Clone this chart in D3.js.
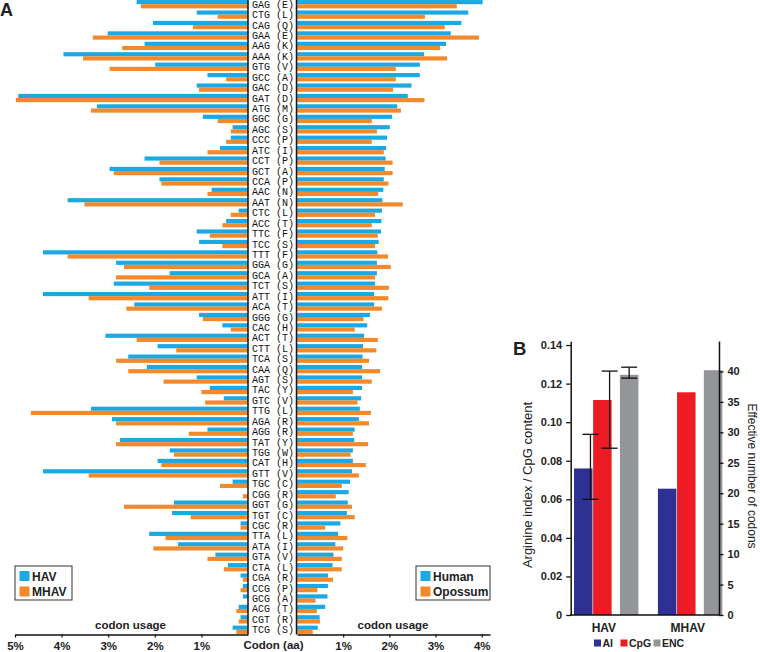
<!DOCTYPE html>
<html><head><meta charset="utf-8">
<script src="https://cdn.jsdelivr.net/npm/d3@7"></script>
<style>body{margin:0;background:#fff}svg{display:block}</style>
</head><body>
<svg id="chart" width="760" height="652"></svg>
<script>
// ---------- Panel A data ----------
const codons = ["GAG (E)","CTG (L)","CAG (Q)","GAA (E)","AAG (K)","AAA (K)","GTG (V)","GCC (A)","GAC (D)","GAT (D)",
"ATG (M)","GGC (G)","AGC (S)","CCC (P)","ATC (I)","CCT (P)","GCT (A)","CCA (P)","AAC (N)","AAT (N)",
"CTC (L)","ACC (T)","TTC (F)","TCC (S)","TTT (F)","GGA (G)","GCA (A)","TCT (S)","ATT (I)","ACA (T)",
"GGG (G)","CAC (H)","ACT (T)","CTT (L)","TCA (S)","CAA (Q)","AGT (S)","TAC (Y)","GTC (V)","TTG (L)",
"AGA (R)","AGG (R)","TAT (Y)","TGG (W)","CAT (H)","GTT (V)","TGC (C)","CGG (R)","GGT (G)","TGT (C)",
"CGC (R)","TTA (L)","ATA (I)","GTA (V)","CTA (L)","CGA (R)","CCG (P)","GCG (A)","ACG (T)","CGT (R)","TCG (S)"];
const havUsage = [2.39,1.10,2.04,3.01,2.22,3.96,1.99,0.87,1.10,4.93,
3.24,0.97,0.33,0.37,0.60,2.22,2.97,1.90,0.78,3.87,
0.20,0.47,1.10,1.05,4.40,2.83,1.68,2.88,4.40,2.44,
1.05,0.55,3.06,1.94,2.57,2.17,1.10,0.82,0.52,3.37,
2.92,0.87,2.75,1.68,1.94,4.40,0.33,0.00,1.59,1.63,
0.16,2.12,1.50,0.70,0.43,0.16,0.11,0.11,0.20,0.16,0.33];
const mhavUsage = [2.30,0.65,1.18,3.33,2.70,3.54,2.97,0.47,1.05,4.98,
3.37,0.65,0.37,0.47,0.87,1.90,2.88,1.86,0.87,3.51,
0.37,0.55,0.82,0.55,3.87,2.66,2.83,2.12,3.42,2.61,
0.97,0.37,2.39,1.54,2.83,2.57,1.81,1.00,0.92,4.66,
2.83,1.27,2.83,1.59,1.86,3.42,0.60,0.11,2.66,1.23,
0.16,1.77,2.03,0.87,0.52,0.11,0.16,0.00,0.25,0.20,0.25];
const humanUsage = [4.02,3.71,3.56,3.33,3.23,2.75,2.66,2.66,2.48,2.40,
2.17,2.06,2.01,1.95,1.93,1.92,1.90,1.88,1.87,1.85,
1.84,1.83,1.82,1.77,1.74,1.73,1.73,1.69,1.67,1.67,
1.58,1.52,1.45,1.43,1.42,1.41,1.41,1.41,1.39,1.36,
1.34,1.25,1.24,1.21,1.21,1.19,1.15,1.12,1.10,1.08,
0.94,0.89,0.83,0.79,0.77,0.67,0.67,0.66,0.61,0.49,0.45];
const opossumUsage = [3.46,2.77,3.20,3.94,3.10,3.25,2.14,2.14,2.08,2.76,
2.25,1.62,1.73,1.62,1.88,2.07,2.07,1.98,1.76,2.29,
1.69,1.62,1.75,1.69,1.97,2.03,1.69,1.99,1.98,1.84,
1.44,1.25,1.75,1.72,1.56,1.80,1.62,1.21,1.31,1.60,
1.56,1.21,1.54,1.16,1.49,1.34,0.97,0.84,1.19,1.25,
0.61,1.09,1.00,0.97,0.97,0.78,0.44,0.40,0.43,0.50,0.34];
const leftTicks = [1,2,3,4,5];
const rightTicks = [1,2,3,4];
const leftSeries = ["HAV","MHAV"];
const rightSeries = ["Human","Opossum"];

// ---------- Panel B data ----------
const groupsB = ["HAV","MHAV"];
const seriesB = ["AI","CpG","ENC"];
const aiValues = [0.076, 0.0655];
const cpgValues = [0.1115, 0.1155];
const encValues = [39.45, 40.2];
const aiErr = [[0.060, 0.0937], null];
const cpgErr = [[0.0865, 0.1265], null];
const encErr = [[38.9, 40.7], null];
const leftTicksB = [0,0.02,0.04,0.06,0.08,0.10,0.12,0.14];
const rightTicksB = [0,5,10,15,20,25,30,35,40];

const BLUE = "#1ca8e3", ORANGE = "#f28a2b";
const NAVY = "#2e3192", RED = "#ed1c24", GRAY = "#939598";
const SANS = "'Liberation Sans', Arial, sans-serif";

const svg = d3.select("#chart");

// ================= Panel A =================
const axisY = 634.5;
const yBand = d3.scaleBand().domain(codons).range([-1, 635]);
const ySub = d3.scaleBand().domain(["a","b"]).range([yBand.bandwidth()*0.1, yBand.bandwidth()*0.9]);
const xL = d3.scaleLinear().domain([0,5]).range([248, 15]);
const xR = d3.scaleLinear().domain([0,4.18]).range([297, 490]);

const gA = svg.append("g");
const rowsL = codons.map((c,i)=>({c, a: havUsage[i], b: mhavUsage[i], h: humanUsage[i], o: opossumUsage[i]}));

gA.selectAll("rect.hav").data(rowsL).join("rect")
  .attr("x", d=>xL(d.a)).attr("width", d=>xL(0)-xL(d.a))
  .attr("y", d=>yBand(d.c)+ySub("a")).attr("height", ySub.bandwidth()).attr("fill", BLUE);
gA.selectAll("rect.mhav").data(rowsL).join("rect")
  .attr("x", d=>xL(d.b)).attr("width", d=>xL(0)-xL(d.b))
  .attr("y", d=>yBand(d.c)+ySub("b")).attr("height", ySub.bandwidth()).attr("fill", ORANGE);
gA.selectAll("rect.hum").data(rowsL).join("rect")
  .attr("x", xR(0)).attr("width", d=>xR(d.h)-xR(0))
  .attr("y", d=>yBand(d.c)+ySub("a")).attr("height", ySub.bandwidth()).attr("fill", BLUE);
gA.selectAll("rect.opo").data(rowsL).join("rect")
  .attr("x", xR(0)).attr("width", d=>xR(d.o)-xR(0))
  .attr("y", d=>yBand(d.c)+ySub("b")).attr("height", ySub.bandwidth()).attr("fill", ORANGE);

// codon labels
gA.selectAll("text.codon").data(codons).join("text")
  .attr("x", (xL(0)+xR(0))/2 + 0.5).attr("y", d=>yBand(d)+yBand.bandwidth()/2)
  .attr("dy","0.35em").attr("text-anchor","middle")
  .style("font-family","'Liberation Mono', 'Courier New', monospace").style("font-size","10px")
  .attr("fill","#111").text(d=>d);

// vertical separators
[xL(0), xR(0)-0.5].forEach(x=>{
  gA.append("line").attr("x1",x).attr("x2",x).attr("y1",0).attr("y2",axisY)
    .attr("stroke","#111").attr("stroke-width",1.5);
});

// bottom axes
const axL = d3.axisBottom(xL).tickValues(leftTicks).tickSize(3).tickSizeOuter(0).tickPadding(4).tickFormat(d=>d+"%");
const axR = d3.axisBottom(xR).tickValues(rightTicks).tickSize(3).tickSizeOuter(0).tickPadding(4).tickFormat(d=>d+"%");
[[axL],[axR]].forEach(([ax])=>{
  const g = gA.append("g").attr("transform",`translate(0,${axisY})`).call(ax);
  g.select(".domain").attr("stroke","#111").attr("stroke-width",1.5);
  g.selectAll(".tick line").attr("stroke","#111").attr("stroke-width",1.2);
  g.selectAll(".tick text").attr("fill","#222").style("font-family",SANS).style("font-size","11.5px").style("font-weight","bold");
});

gA.append("text").attr("x", (xL(0)+xR(0))/2 + 1).attr("y", 649).attr("text-anchor","middle")
  .style("font-family",SANS).style("font-size","11.5px").style("font-weight","bold").attr("fill","#222").text("Codon (aa)");
gA.append("text").attr("x", 130.5).attr("y", 629).attr("text-anchor","middle")
  .style("font-family",SANS).style("font-size","11.5px").style("font-weight","bold").attr("fill","#222").text("codon usage");
gA.append("text").attr("x", 393).attr("y", 629).attr("text-anchor","middle")
  .style("font-family",SANS).style("font-size","11.5px").style("font-weight","bold").attr("fill","#222").text("codon usage");

// legends
function legendA(x, y, w, labels){
  const g = gA.append("g").attr("transform",`translate(${x},${y})`);
  g.append("rect").attr("width",w).attr("height",34).attr("fill","#fff").attr("stroke","#333").attr("stroke-width",1);
  labels.forEach((lab,i)=>{
    g.append("rect").attr("x",4.5).attr("y",5+i*15.5).attr("width",10).attr("height",10).attr("fill", i===0?BLUE:ORANGE);
    g.append("text").attr("x",17).attr("y",14.5+i*15.5).style("font-family",SANS).style("font-size","12px")
      .style("font-weight","bold").attr("fill","#222").text(lab);
  });
}
legendA(15, 566, 57, leftSeries);
legendA(416, 566, 74, rightSeries);

svg.append("text").attr("x",0).attr("y",16).style("font-family",SANS).style("font-size","18px")
  .style("font-weight","bold").attr("fill","#222").text("A");

// ================= Panel B =================
const baseB = 615;
const yBL = d3.scaleLinear().domain([0,0.142]).range([baseB, 341.2]);
const yBR = d3.scaleLinear().domain([0,45]).range([baseB, 341]);
const x0 = d3.scaleBand().domain(groupsB).range([574, 721.7]).paddingInner(0.24).paddingOuter(0);
const bw = x0.bandwidth();
const subPos = d3.scaleOrdinal().domain(seriesB).range([0, 0.30, 0.72]);
const barW = bw*0.29;
const errAnchor = d3.scaleOrdinal().domain(seriesB).range([0.89, 0.89, 0.5]);
const colorB = d3.scaleOrdinal().domain(seriesB).range([NAVY, RED, GRAY]);

const gB = svg.append("g");
const barsB = [];
groupsB.forEach((g,i)=>{
  barsB.push({g, s:"AI", v: aiValues[i], e: aiErr[i], sc: yBL});
  barsB.push({g, s:"CpG", v: cpgValues[i], e: cpgErr[i], sc: yBL});
  barsB.push({g, s:"ENC", v: encValues[i], e: encErr[i], sc: yBR});
});
gB.selectAll("rect.bar").data(barsB).join("rect")
  .attr("x", d=>x0(d.g)+subPos(d.s)*bw).attr("width", barW)
  .attr("y", d=>d.sc(d.v)).attr("height", d=>baseB - d.sc(d.v))
  .attr("fill", d=>colorB(d.s));

// error bars
const errs = barsB.filter(d=>d.e);
errs.forEach(d=>{
  const cx = x0(d.g)+subPos(d.s)*bw + barW*errAnchor(d.s);
  const y1 = d.sc(d.e[0]), y2 = d.sc(d.e[1]);
  gB.append("line").attr("x1",cx).attr("x2",cx).attr("y1",y1).attr("y2",y2).attr("stroke","#111").attr("stroke-width",1.3);
  [y1,y2].forEach(yy=>gB.append("line").attr("x1",cx-8).attr("x2",cx+8).attr("y1",yy).attr("y2",yy).attr("stroke","#111").attr("stroke-width",1.3));
});

// axes
const axBL = d3.axisLeft(yBL).tickValues(leftTicksB).tickSize(4.5).tickSizeOuter(0).tickPadding(4)
  .tickFormat(d=> d===0 ? "0" : d3.format(".2f")(d));
const axBR = d3.axisRight(yBR).tickValues(rightTicksB).tickSize(4.5).tickSizeOuter(0).tickPadding(4);
const gBL = gB.append("g").attr("transform","translate(570.7,0)").call(axBL);
const gBR = gB.append("g").attr("transform","translate(719,0)").call(axBR);
[gBL,gBR].forEach(g=>{
  g.select(".domain").attr("stroke","#111").attr("stroke-width",1.5);
  g.selectAll(".tick line").attr("stroke","#111").attr("stroke-width",1.3);
  g.selectAll(".tick text").attr("fill","#222").style("font-family",SANS).style("font-size","11px").style("font-weight","bold");
});
gB.append("line").attr("x1",570).attr("x2",719.7).attr("y1",baseB).attr("y2",baseB).attr("stroke","#111").attr("stroke-width",1.5);

// group labels
gB.selectAll("text.grp").data(groupsB).join("text")
  .attr("x", d=>x0(d)+bw/2 - 2).attr("y", 631.5).attr("text-anchor","middle")
  .style("font-family",SANS).style("font-size","12px").style("font-weight","bold").attr("fill","#222").text(d=>d);

// axis titles
gB.append("text").attr("transform","translate(532,485) rotate(-90)").attr("text-anchor","middle")
  .style("font-family",SANS).style("font-size","13px").attr("fill","#222").text("Arginine index / CpG content");
gB.append("text").attr("transform","translate(748,476) rotate(90)").attr("text-anchor","middle")
  .style("font-family",SANS).style("font-size","12px").attr("fill","#222").text("Effective number of codons");

// legend B
const legX = d3.scaleOrdinal().domain(seriesB).range([594, 620.5, 653.5]);
seriesB.forEach(s=>{
  gB.append("rect").attr("x",legX(s)).attr("y",639.5).attr("width",7).attr("height",7).attr("fill",colorB(s));
  gB.append("text").attr("x",legX(s)+8.5).attr("y",647).style("font-family",SANS).style("font-size","10.5px")
    .style("font-weight","bold").attr("fill","#222").text(s);
});

svg.append("text").attr("x",513).attr("y",355).style("font-family",SANS).style("font-size","18.5px")
  .style("font-weight","bold").attr("fill","#222").text("B");
</script>
</body></html>
